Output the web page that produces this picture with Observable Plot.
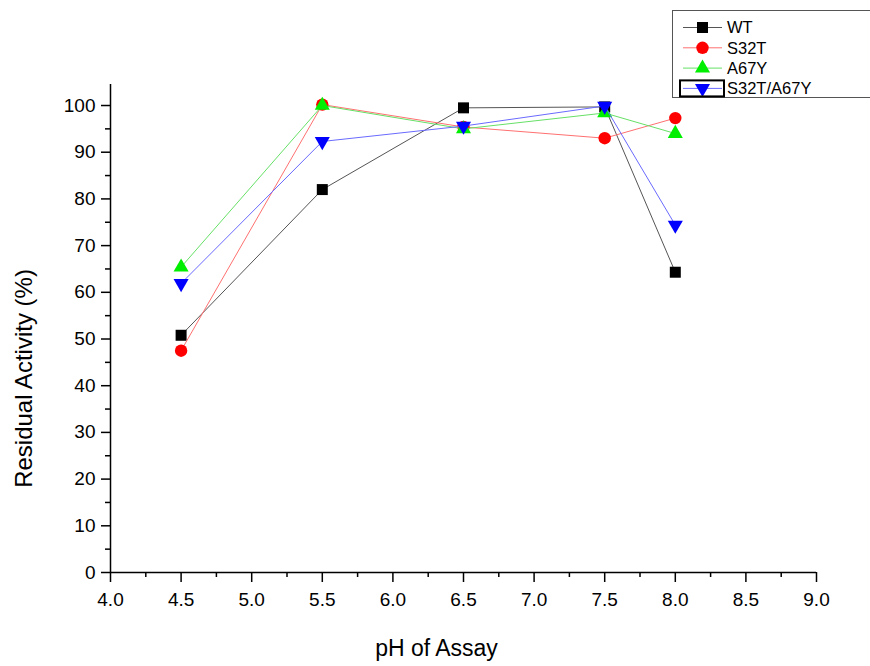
<!DOCTYPE html>
<html>
<head>
<meta charset="utf-8">
<script src="https://cdn.jsdelivr.net/npm/d3@7"></script>
<script src="https://cdn.jsdelivr.net/npm/@observablehq/plot@0.6"></script>
<style>
  html, body { margin: 0; padding: 0; background: #fff; overflow: hidden; }
  #wrap { position: relative; width: 870px; height: 666px; overflow: hidden; font-family: "Liberation Sans", Arial, sans-serif; }
  #legend { position: absolute; left: 672px; top: 10px; width: 210px; height: 86px; border: 1.5px solid #555; background: #fff; }
  #legend svg { overflow: visible; display: block; }
</style>
</head>
<body>
<div id="wrap"><div id="chart"></div><div id="legend"></div></div>
<script>
// ---- data ----
const pH = [4.5, 5.5, 6.5, 7.5, 8.0];
const seriesNames = ["WT", "S32T", "A67Y", "S32T/A67Y"];
const wt       = [50.8, 82.0, 99.5, 99.7, 64.3];
const s32t     = [47.5, 100.2, 95.4, 93.0, 97.3];
const a67y     = [65.4, 100.0, 95.0, 98.4, 94.0];
const s32tA67y = [61.9, 92.3, 95.6, 99.9, 74.4];
const xTicks = [4.0, 4.5, 5.0, 5.5, 6.0, 6.5, 7.0, 7.5, 8.0, 8.5, 9.0];
const xMinor = [4.25, 4.75, 5.25, 5.75, 6.25, 6.75, 7.25, 7.75, 8.25, 8.75];
const yTicks = [0, 10, 20, 30, 40, 50, 60, 70, 80, 90, 100];
const yMinor = [5, 15, 25, 35, 45, 55, 65, 75, 85, 95];
const xTitle = "pH of Assay";
const yTitle = "Residual Activity (%)";

// ---- styles ----
const styles = [
  {line: "#555555", fill: "#000000", symbol: "square", r: 6.2, rotate: 0},
  {line: "#ff7070", fill: "#ff0000", symbol: "circle", r: 6.2, rotate: 0},
  {line: "#66e066", fill: "#00ee00", symbol: "triangle", r: 5.6, rotate: 0},
  {line: "#6a6aff", fill: "#0000ff", symbol: "triangle", r: 5.6, rotate: 180}
];
const values = [wt, s32t, a67y, s32tA67y];
const table = seriesNames.map((name, i) => pH.map((x, j) => ({series: name, x, y: values[i][j]})));

const marks = [];
table.forEach((rows, i) => {
  const st = styles[i];
  marks.push(Plot.line(rows, {x: "x", y: "y", stroke: st.line, strokeWidth: 1}));
  marks.push(Plot.dot(rows, {x: "x", y: "y", symbol: () => st.symbol, fill: st.fill, stroke: "none", r: st.r, rotate: st.rotate}));
});

const xDom = [4, 9], yDom = [0, 104.5];
const chart = Plot.plot({
  width: 870,
  height: 666,
  marginLeft: 110,
  marginRight: 54,
  marginTop: 84,
  marginBottom: 94,
  style: {fontFamily: "'Liberation Sans', Arial, sans-serif", background: "#fff", color: "#000"},
  x: {domain: xDom},
  y: {domain: yDom},
  symbol: {type: "identity"},
  marks: [
    ...marks,
    Plot.axisX({ticks: xTicks, tickSize: 10, tickPadding: 10, tickFormat: d => d.toFixed(1), fontSize: 19, label: null, stroke: "#000", strokeWidth: 1.5}),
    Plot.axisX({ticks: xMinor, tickSize: 5, tickFormat: () => "", label: null, strokeWidth: 1.5}),
    Plot.axisY({ticks: yTicks, tickSize: 9, tickPadding: 6, fontSize: 19, label: null, strokeWidth: 1.5}),
    Plot.axisY({ticks: yMinor, tickSize: 5, tickFormat: () => "", label: null, strokeWidth: 1.5}),
    Plot.ruleY([yDom[0]], {stroke: "#000", strokeWidth: 1.5}),
    Plot.ruleX([xDom[0]], {stroke: "#000", strokeWidth: 1.5}),
    Plot.text([xTitle], {text: d => d, frameAnchor: "bottom", textAnchor: "middle", lineAnchor: "middle", dx: -27, dy: 76, fontSize: 23, fill: "#000"}),
    Plot.text([yTitle], {text: d => d, frameAnchor: "left", textAnchor: "middle", lineAnchor: "middle", rotate: -90, dx: -86, dy: 50, fontSize: 24, fill: "#000"})
  ]
});
document.getElementById("chart").appendChild(chart);

// ---- legend ----
const lg = d3.select("#legend").append("svg").attr("width", 190).attr("height", 86);
seriesNames.forEach((name, i) => {
  const st = styles[i];
  const cy = 16.5 + i * 20.3;
  const g = lg.append("g");
  g.append("line").attr("x1", 10).attr("x2", 49).attr("y1", cy).attr("y2", cy).attr("stroke", st.line).attr("stroke-width", 1);
  const sym = st.symbol === "square" ? d3.symbolSquare : st.symbol === "circle" ? d3.symbolCircle : d3.symbolTriangle;
  g.append("path").attr("d", d3.symbol(sym, Math.PI * st.r * st.r)())
    .attr("transform", `translate(29.5,${cy}) rotate(${st.rotate})`).attr("fill", st.fill);
  g.append("text").attr("x", 54).attr("y", cy).attr("dy", "0.36em").attr("font-size", 16.5)
    .attr("font-family", "'Liberation Sans', Arial, sans-serif").text(name);
  if (i === seriesNames.length - 1) {
    g.append("rect").attr("x", 7).attr("y", cy - 8).attr("width", 44).attr("height", 16)
      .attr("fill", "none").attr("stroke", "#000").attr("stroke-width", 2);
  }
});
</script>
</body>
</html>
